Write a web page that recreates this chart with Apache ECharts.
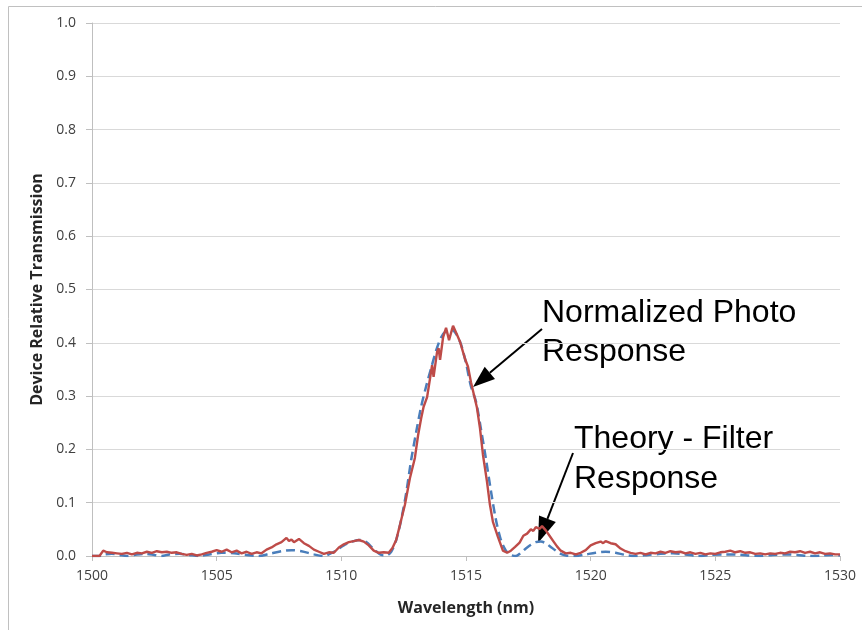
<!DOCTYPE html>
<html>
<head>
<meta charset="utf-8">
<script src="https://cdn.jsdelivr.net/npm/echarts@6.0.0/dist/echarts.min.js"></script>
<style>
  html, body { margin: 0; padding: 0; background: #fff; }
  #main { width: 862px; height: 630px; }
</style>
</head>
<body>
<div id="main"></div>
<script>
// measured (normalized photo response)
var measuredNm = [
  1500.0, 1500.3, 1500.45, 1500.6, 1500.8, 1501.0, 1501.2, 1501.4, 1501.6, 1501.8,
  1502.0, 1502.2, 1502.4, 1502.6, 1502.8, 1503.0, 1503.2, 1503.4, 1503.6, 1503.8,
  1504.0, 1504.2, 1504.4, 1504.6, 1504.8, 1505.0, 1505.2, 1505.4, 1505.6, 1505.8,
  1506.0, 1506.2, 1506.4, 1506.6, 1506.8, 1507.0, 1507.2, 1507.4, 1507.6, 1507.8,
  1507.9, 1508.0, 1508.1, 1508.3, 1508.5, 1508.7, 1508.9, 1509.1, 1509.3, 1509.5,
  1509.7, 1509.9, 1510.1, 1510.3, 1510.5, 1510.7, 1510.9, 1511.1, 1511.3, 1511.5,
  1511.7, 1511.9, 1512.05, 1512.2, 1512.35, 1512.55, 1512.75, 1512.95, 1513.08, 1513.2,
  1513.3, 1513.44, 1513.56, 1513.64, 1513.7, 1513.84, 1513.9, 1513.96, 1514.08, 1514.2,
  1514.32, 1514.48, 1514.64, 1514.76, 1514.84, 1514.96, 1515.08, 1515.2, 1515.44, 1515.56,
  1515.68, 1515.84, 1515.96, 1516.08, 1516.28, 1516.48, 1516.65, 1516.8, 1516.97, 1517.15,
  1517.3, 1517.45, 1517.6, 1517.7, 1517.8, 1517.95, 1518.05, 1518.2, 1518.35, 1518.5,
  1518.65, 1518.8, 1519.0, 1519.2, 1519.4, 1519.6, 1519.8, 1520.0, 1520.2, 1520.4,
  1520.5, 1520.6, 1520.8, 1521.0, 1521.2, 1521.4, 1521.6, 1521.8, 1522.0, 1522.2,
  1522.4, 1522.6, 1522.8, 1523.0, 1523.2, 1523.4, 1523.6, 1523.8, 1524.0, 1524.2,
  1524.4, 1524.6, 1524.8, 1525.0, 1525.2, 1525.4, 1525.6, 1525.8, 1526.0, 1526.2,
  1526.4, 1526.6, 1526.8, 1527.0, 1527.2, 1527.4, 1527.6, 1527.8, 1528.0, 1528.2,
  1528.4, 1528.6, 1528.8, 1529.0, 1529.2, 1529.4, 1529.6, 1529.8, 1530.0
];
var measuredVal = [
  0.000, 0.000, 0.010, 0.007, 0.006, 0.005, 0.004, 0.006, 0.003, 0.006,
  0.005, 0.008, 0.006, 0.009, 0.007, 0.008, 0.006, 0.007, 0.004, 0.002,
  0.004, 0.001, 0.003, 0.006, 0.008, 0.011, 0.008, 0.012, 0.007, 0.010,
  0.005, 0.008, 0.004, 0.007, 0.005, 0.012, 0.016, 0.022, 0.026, 0.034,
  0.028, 0.031, 0.026, 0.032, 0.024, 0.019, 0.012, 0.008, 0.004, 0.007,
  0.006, 0.016, 0.022, 0.026, 0.028, 0.030, 0.027, 0.020, 0.010, 0.006,
  0.007, 0.006, 0.015, 0.030, 0.058, 0.096, 0.146, 0.184, 0.227, 0.258,
  0.280, 0.298, 0.334, 0.358, 0.336, 0.383, 0.390, 0.368, 0.410, 0.428,
  0.405, 0.432, 0.415, 0.402, 0.400, 0.370, 0.355, 0.326, 0.278, 0.240,
  0.190, 0.140, 0.096, 0.064, 0.036, 0.010, 0.006, 0.010, 0.017, 0.025,
  0.038, 0.042, 0.050, 0.047, 0.054, 0.051, 0.056, 0.048, 0.038, 0.028,
  0.018, 0.010, 0.005, 0.006, 0.003, 0.006, 0.011, 0.020, 0.024, 0.027,
  0.024, 0.028, 0.024, 0.022, 0.014, 0.009, 0.006, 0.004, 0.006, 0.003,
  0.006, 0.005, 0.008, 0.006, 0.009, 0.007, 0.008, 0.005, 0.007, 0.004,
  0.006, 0.003, 0.005, 0.004, 0.007, 0.008, 0.010, 0.007, 0.009, 0.006,
  0.007, 0.004, 0.005, 0.003, 0.005, 0.004, 0.006, 0.005, 0.008, 0.007,
  0.009, 0.006, 0.008, 0.005, 0.007, 0.004, 0.005, 0.003, 0.003
];

// theory (filter response)
var theoryNm = [
  1500.0, 1500.3, 1500.5, 1500.8, 1501.1, 1501.4, 1501.7, 1502.1, 1502.5, 1502.8,
  1503.1, 1503.5, 1503.9, 1504.3, 1504.7, 1505.2, 1505.7, 1506.2, 1506.7, 1507.1,
  1507.6, 1508.0, 1508.4, 1508.9, 1509.3, 1509.7, 1510.1, 1510.5, 1510.75, 1511.0,
  1511.3, 1511.6, 1511.8, 1512.0, 1512.2, 1512.4, 1512.6, 1512.8, 1513.0, 1513.2,
  1513.4, 1513.6, 1513.8, 1514.0, 1514.2, 1514.4, 1514.6, 1514.8, 1515.0, 1515.2,
  1515.4, 1515.6, 1515.8, 1516.0, 1516.2, 1516.4, 1516.6, 1516.8, 1517.0, 1517.2,
  1517.4, 1517.6, 1517.8, 1518.0, 1518.2, 1518.4, 1518.6, 1518.8, 1519.0, 1519.4,
  1519.8, 1520.2, 1520.6, 1521.0, 1521.4, 1521.8, 1522.3, 1522.8, 1523.3, 1523.8,
  1524.3, 1524.8, 1525.3, 1525.8, 1526.3, 1526.8, 1527.3, 1527.8, 1528.3, 1528.8,
  1529.3, 1529.7, 1530.0
];
var theoryVal = [
  0.000, 0.000, 0.003, 0.004, 0.002, 0.000, 0.002, 0.004, 0.002, 0.000,
  0.003, 0.004, 0.002, 0.000, 0.003, 0.006, 0.005, 0.002, 0.000, 0.004,
  0.009, 0.011, 0.009, 0.003, 0.000, 0.008, 0.020, 0.028, 0.030, 0.026,
  0.013, 0.002, 0.001, 0.008, 0.030, 0.068, 0.118, 0.180, 0.232, 0.280,
  0.318, 0.352, 0.385, 0.410, 0.422, 0.425, 0.417, 0.397, 0.362, 0.318,
  0.290, 0.238, 0.182, 0.122, 0.068, 0.030, 0.010, 0.002, 0.000, 0.006,
  0.014, 0.021, 0.026, 0.027, 0.024, 0.017, 0.010, 0.004, 0.001, 0.000,
  0.003, 0.006, 0.008, 0.006, 0.002, 0.000, 0.002, 0.004, 0.005, 0.003,
  0.000, 0.002, 0.003, 0.003, 0.001, 0.000, 0.002, 0.003, 0.002, 0.000,
  0.001, 0.002, 0.001
];

var xTicks = [1500, 1505, 1510, 1515, 1520, 1525, 1530];

function pairs(xs, ys) {
  return xs.map(function (x, i) { return [x, ys[i]]; });
}

// arrow = line + triangular head, pixel coords
function arrow(x1, y1, x2, y2, headLen, headHalf) {
  var dx = x2 - x1, dy = y2 - y1;
  var len = Math.sqrt(dx * dx + dy * dy);
  var ux = dx / len, uy = dy / len;
  var bx = x2 - ux * headLen, by = y2 - uy * headLen;
  return [
    { type: 'line', shape: { x1: x1, y1: y1, x2: bx, y2: by },
      style: { stroke: '#000', lineWidth: 2 } },
    { type: 'polygon',
      shape: { points: [[x2, y2], [bx - uy * headHalf, by + ux * headHalf], [bx + uy * headHalf, by - ux * headHalf]] },
      style: { fill: '#000' } }
  ];
}

var myChart = echarts.init(document.getElementById('main'));
var labelFont = '"Open Sans", Lato, sans-serif';
var noteFont = '"Liberation Sans", Arial, sans-serif';

var option = {
  animation: false,
  backgroundColor: '#fff',
  grid: { left: 92, right: 22, top: 23, bottom: 74 },
  xAxis: {
    type: 'value',
    min: xTicks[0],
    max: xTicks[xTicks.length - 1],
    interval: 5,
    name: 'Wavelength (nm)',
    nameLocation: 'middle',
    nameGap: 44,
    nameTextStyle: { fontFamily: labelFont, fontWeight: 'bold', fontSize: 16, color: '#262626' },
    axisLine: { show: true, lineStyle: { color: '#bfbfbf', width: 1 } },
    axisTick: { show: true, length: 5, lineStyle: { color: '#bfbfbf' } },
    axisLabel: {
      fontFamily: labelFont, fontSize: 14, color: '#404040', margin: 13,
      formatter: function (v) { return String(v); }
    },
    splitLine: { show: false }
  },
  yAxis: {
    type: 'value',
    min: 0,
    max: 1,
    interval: 0.1,
    name: 'Device Relative Transmission',
    nameLocation: 'middle',
    nameGap: 45,
    nameTextStyle: { fontFamily: labelFont, fontWeight: 'bold', fontSize: 16, color: '#262626' },
    axisLine: { show: true, lineStyle: { color: '#bfbfbf', width: 1 } },
    axisTick: { show: true, length: 6, lineStyle: { color: '#bfbfbf' } },
    axisLabel: {
      fontFamily: labelFont, fontSize: 14, color: '#404040', margin: 16,
      formatter: function (v) { return v.toFixed(1); }
    },
    splitLine: { show: true, lineStyle: { color: '#d9d9d9', width: 1 } }
  },
  series: [
    {
      name: 'Theory - Filter Response',
      type: 'line',
      data: pairs(theoryNm, theoryVal),
      showSymbol: false,
      smooth: 0.3,
      lineStyle: { color: '#4a7ebb', width: 2.5, type: [9, 5] },
      z: 2
    },
    {
      name: 'Normalized Photo Response',
      type: 'line',
      data: pairs(measuredNm, measuredVal),
      showSymbol: false,
      lineStyle: { color: '#be4b48', width: 2.4 },
      z: 3
    }
  ],
  graphic: [
    { type: 'rect', shape: { x: 8.5, y: 6.5, width: 1000, height: 1000 },
      style: { fill: null, stroke: '#c0c0c0', lineWidth: 1 }, silent: true },
    { type: 'text', left: 542, top: 294,
      style: { text: 'Normalized Photo\nResponse', font: '32px ' + noteFont, fill: '#000', lineHeight: 39 } },
    { type: 'text', left: 574, top: 419,
      style: { text: 'Theory - Filter\nResponse', font: '32px ' + noteFont, fill: '#000', lineHeight: 40 } }
  ].concat(arrow(542, 329, 473, 387, 22, 8)).concat(arrow(573, 453, 538, 543, 26, 9))
};

myChart.setOption(option);
window.addEventListener('resize', function () {
  myChart.resize();
});
</script>
</body>
</html>
